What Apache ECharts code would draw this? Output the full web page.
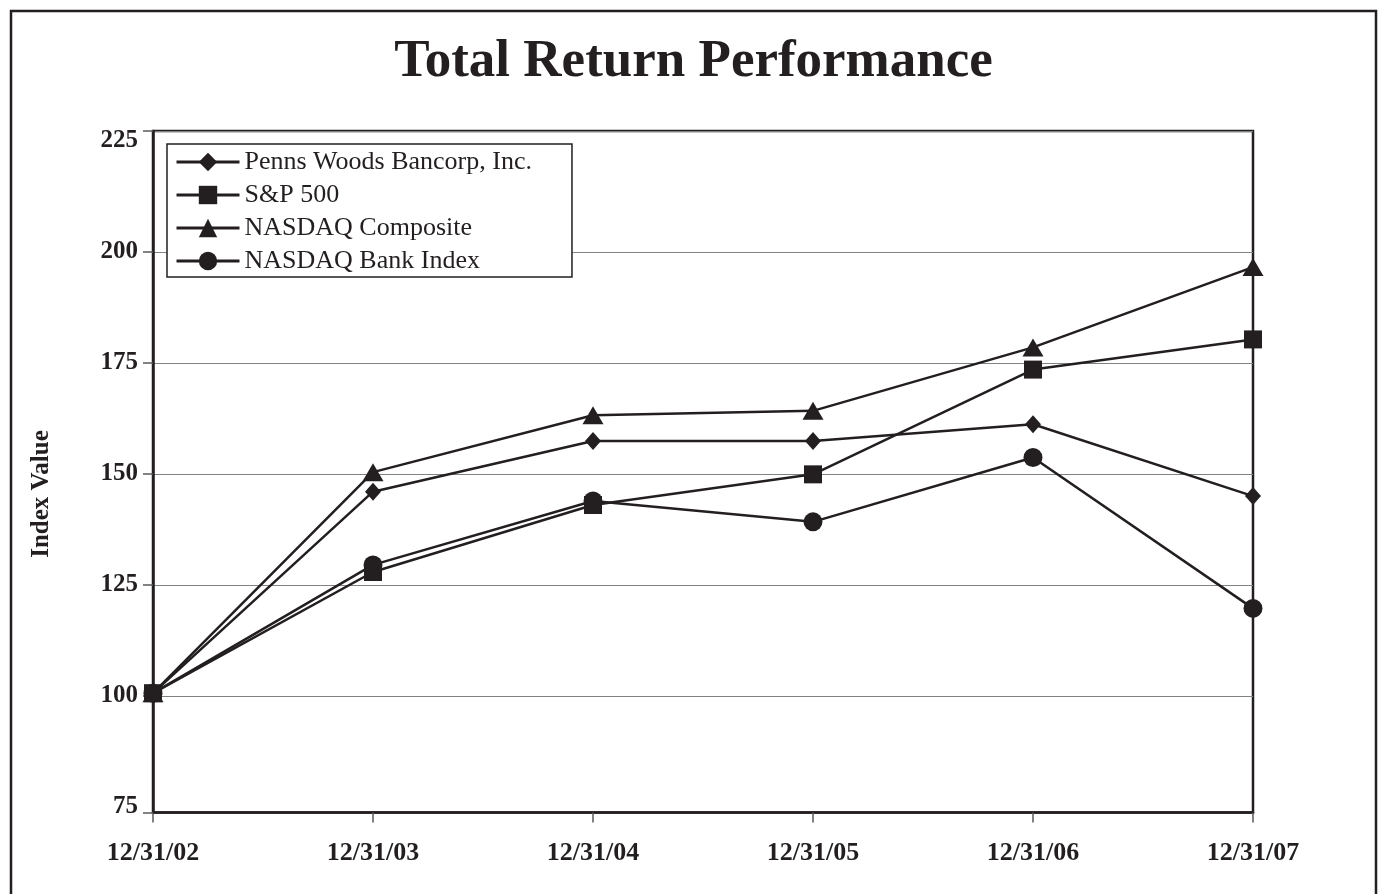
<!DOCTYPE html>
<html><head><meta charset="utf-8">
<script src="https://cdn.jsdelivr.net/npm/echarts@6/dist/echarts.min.js"></script>
<style>html,body{margin:0;padding:0;background:#fff}#c{width:1387px;height:894px}</style>
</head><body><div id="c"></div>
<script>
const categories = ['12/31/02', '12/31/03', '12/31/04', '12/31/05', '12/31/06', '12/31/07'];
const pennsWoods = [100.6, 146.0, 157.4, 157.4, 161.2, 145.0];
const sp500 = [100.6, 127.9, 143.0, 149.9, 173.5, 180.3];
const nasdaqComposite = [100.6, 150.4, 163.2, 164.2, 178.5, 196.6];
const nasdaqBank = [100.6, 129.5, 143.9, 139.2, 153.7, 119.7];
const yTickLabels = [75, 100, 125, 150, 175, 200, 225];
const yMin = 73.72, yMax = 227.25;
const yTickValues = [yMin, 100, 125, 150, 175, 200, yMax];

const INK = '#231f20';
const FONT = 'Liberation Serif';
const chart = echarts.init(document.getElementById('c'), null, {renderer: 'canvas'});

function mkSeries(name, data, symbol, size, z) {
  return {
    name, type: 'line', data, symbol, symbolSize: size, showAllSymbol: true, z,
    lineStyle: {color: INK, width: 2.5},
    itemStyle: {color: INK},
    emphasis: {disabled: true}
  };
}

chart.setOption({
  animation: false,
  backgroundColor: '#fff',
  title: {
    text: 'Total Return Performance', left: 'center', top: 31,
    textStyle: {fontFamily: FONT, fontSize: 53, fontWeight: 'bold', color: INK}
  },
  graphic: [
    {type: 'rect', shape: {x: 11, y: 11, width: 1365, height: 910},
     style: {fill: 'none', stroke: INK, lineWidth: 2.5}, z: 0},
    {type: 'text', x: 42, y: 494, rotation: Math.PI / 2,
     style: {text: 'Index Value', fontFamily: FONT, fontSize: 25, fontWeight: 'bold', fill: INK,
             textAlign: 'center', textVerticalAlign: 'middle'}}
  ],
  legend: {
    orient: 'vertical', left: 167, top: 144,
    itemWidth: 63, itemHeight: 23, itemGap: 7,
    padding: [5, 40, 3, 8],
    backgroundColor: '#fff', borderColor: INK, borderWidth: 1.5, borderRadius: 0,
    lineStyle: {color: INK, width: 3},
    textStyle: {fontFamily: FONT, fontSize: 26, color: INK},
    data: ['Penns Woods Bancorp, Inc.', 'S&P 500', 'NASDAQ Composite', 'NASDAQ Bank Index']
  },
  grid: {left: 153, right: 134, top: 131, bottom: 81.5, show: true,
         borderColor: INK, borderWidth: 2.5, backgroundColor: 'transparent'},
  xAxis: {
    type: 'category', data: categories, boundaryGap: false,
    axisLine: {lineStyle: {color: INK, width: 2.5}},
    axisTick: {show: true, length: 10, lineStyle: {color: '#58595b', width: 1.5}},
    axisLabel: {margin: 28, fontFamily: FONT, fontSize: 26, fontWeight: 'bold', color: INK},
    splitLine: {show: false}
  },
  yAxis: {
    type: 'value', min: yMin, max: yMax,
    axisLine: {show: true, lineStyle: {color: INK, width: 2.5}},
    axisTick: {show: true, customValues: yTickValues, length: 10, lineStyle: {color: '#58595b', width: 1.5}},
    axisLabel: {customValues: yTickLabels, margin: 15, fontFamily: FONT, fontSize: 25, fontWeight: 'bold', color: INK},
    splitLine: {show: true, lineStyle: {color: '#808285', width: 1.2}}
  },
  series: [
    mkSeries('Penns Woods Bancorp, Inc.', pennsWoods, 'diamond', [16, 18], 3),
    mkSeries('S&P 500', sp500, 'rect', 18, 5),
    mkSeries('NASDAQ Composite', nasdaqComposite, 'triangle', [21, 18], 2),
    mkSeries('NASDAQ Bank Index', nasdaqBank, 'circle', 19, 4)
  ]
});
</script></body></html>
